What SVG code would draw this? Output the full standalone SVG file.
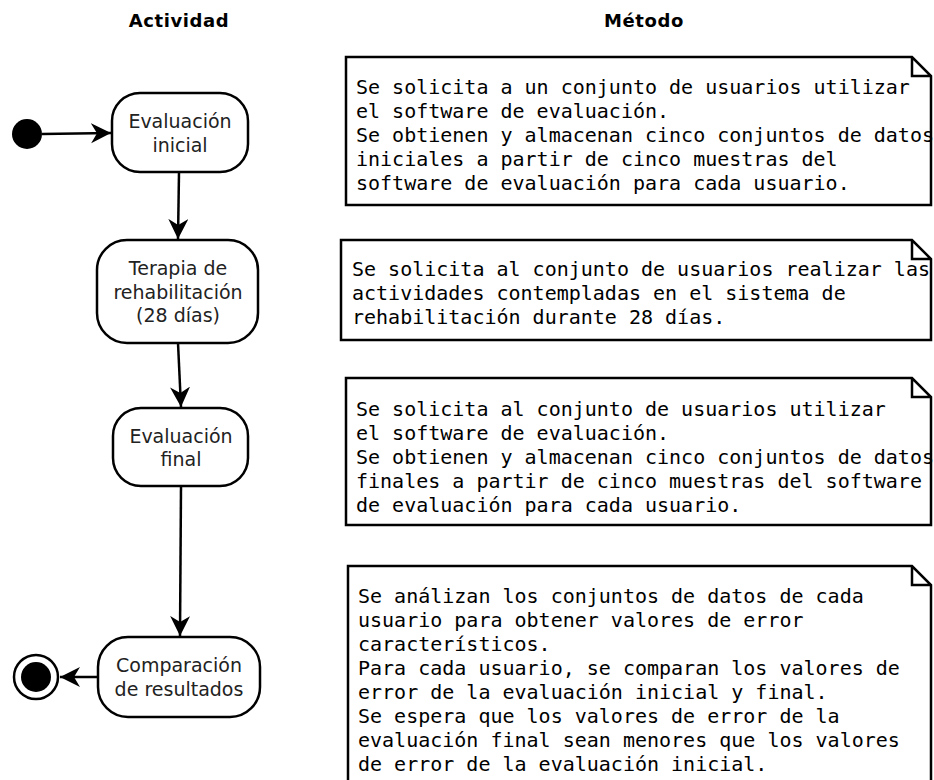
<svg xmlns="http://www.w3.org/2000/svg" width="934" height="780" viewBox="0 0 934 780">
<defs>
<marker id="arr" markerWidth="22" markerHeight="22" refX="20" refY="10" orient="auto" markerUnits="userSpaceOnUse">
<path d="M0,0 L20,10 L0,20 L6,10 Z" fill="#000"/>
</marker>
<style>
.title{font-family:"DejaVu Sans",sans-serif;font-weight:bold;font-size:18px;letter-spacing:0.6px;text-anchor:middle;fill:#000}
.node rect{fill:#fff;stroke:#000;stroke-width:2.5}
.node text{font-family:"DejaVu Sans",sans-serif;font-size:19px;text-anchor:middle;fill:#222}
.note path{fill:#fff;stroke:#000;stroke-width:2.5}
.note text{font-family:"DejaVu Sans Mono",monospace;font-size:20px;fill:#000}
.conn line{stroke:#000;stroke-width:2.5;fill:none}
</style>
</defs>
<rect width="934" height="780" fill="#fff"/>
<text class="title" x="179" y="27">Actividad</text>
<text class="title" x="644" y="27">Método</text>

<g id="start"><circle cx="27" cy="134" r="15" fill="#000"/></g>
<g id="end"><circle cx="36" cy="677" r="22" fill="#fff" stroke="#000" stroke-width="2.5"/><circle cx="36" cy="677" r="15" fill="#000"/></g>

<g id="n1" class="node"><rect x="112" y="93" width="136" height="79" rx="28"/><text x="180" y="128">Evaluación</text><text x="180" y="152">inicial</text></g>
<g id="n2" class="node"><rect x="97" y="240" width="161" height="103" rx="30"/><text x="178" y="275">Terapia de</text><text x="178" y="299">rehabilitación</text><text x="178" y="322">(28 días)</text></g>
<g id="n3" class="node"><rect x="113" y="408" width="135" height="78" rx="28"/><text x="181" y="443">Evaluación</text><text x="181" y="466">final</text></g>
<g id="n4" class="node"><rect x="98" y="637" width="162" height="80" rx="30"/><text x="179" y="672">Comparación</text><text x="179" y="696">de resultados</text></g>

<g id="connectors" class="conn">
<line x1="42" y1="134" x2="111" y2="133" marker-end="url(#arr)"/>
<line x1="179" y1="172" x2="178" y2="239" marker-end="url(#arr)"/>
<line x1="178" y1="343" x2="181" y2="407" marker-end="url(#arr)"/>
<line x1="181" y1="486" x2="180" y2="636" marker-end="url(#arr)"/>
<line x1="98" y1="677" x2="60" y2="677" marker-end="url(#arr)"/>
</g>

<g id="note1" class="note"><path d="M346,57 H912 L931,76 V205 H346 Z M912,57 V76 H931"/>
<text x="356" y="94">Se solicita a un conjunto de usuarios utilizar</text>
<text x="356" y="118">el software de evaluación.</text>
<text x="356" y="142">Se obtienen y almacenan cinco conjuntos de datos</text>
<text x="356" y="166">iniciales a partir de cinco muestras del</text>
<text x="356" y="190">software de evaluación para cada usuario.</text>
</g>
<g id="note2" class="note"><path d="M341,240 H912 L931,259 V340 H341 Z M912,240 V259 H931"/>
<text x="352" y="276">Se solicita al conjunto de usuarios realizar las</text>
<text x="352" y="300">actividades contempladas en el sistema de</text>
<text x="352" y="324">rehabilitación durante 28 días.</text>
</g>
<g id="note3" class="note"><path d="M346,378 H912 L931,397 V525 H346 Z M912,378 V397 H931"/>
<text x="356" y="416">Se solicita al conjunto de usuarios utilizar</text>
<text x="356" y="440">el software de evaluación.</text>
<text x="356" y="464">Se obtienen y almacenan cinco conjuntos de datos</text>
<text x="356" y="488">finales a partir de cinco muestras del software</text>
<text x="356" y="512">de evaluación para cada usuario.</text>
</g>
<g id="note4" class="note"><path d="M348,566 H912 L931,585 V790 H348 Z M912,566 V585 H931"/>
<text x="358" y="603">Se análizan los conjuntos de datos de cada</text>
<text x="358" y="627">usuario para obtener valores de error</text>
<text x="358" y="651">característicos.</text>
<text x="358" y="675">Para cada usuario, se comparan los valores de</text>
<text x="358" y="699">error de la evaluación inicial y final.</text>
<text x="358" y="723">Se espera que los valores de error de la</text>
<text x="358" y="747">evaluación final sean menores que los valores</text>
<text x="358" y="771">de error de la evaluación inicial.</text>
</g>
</svg>
